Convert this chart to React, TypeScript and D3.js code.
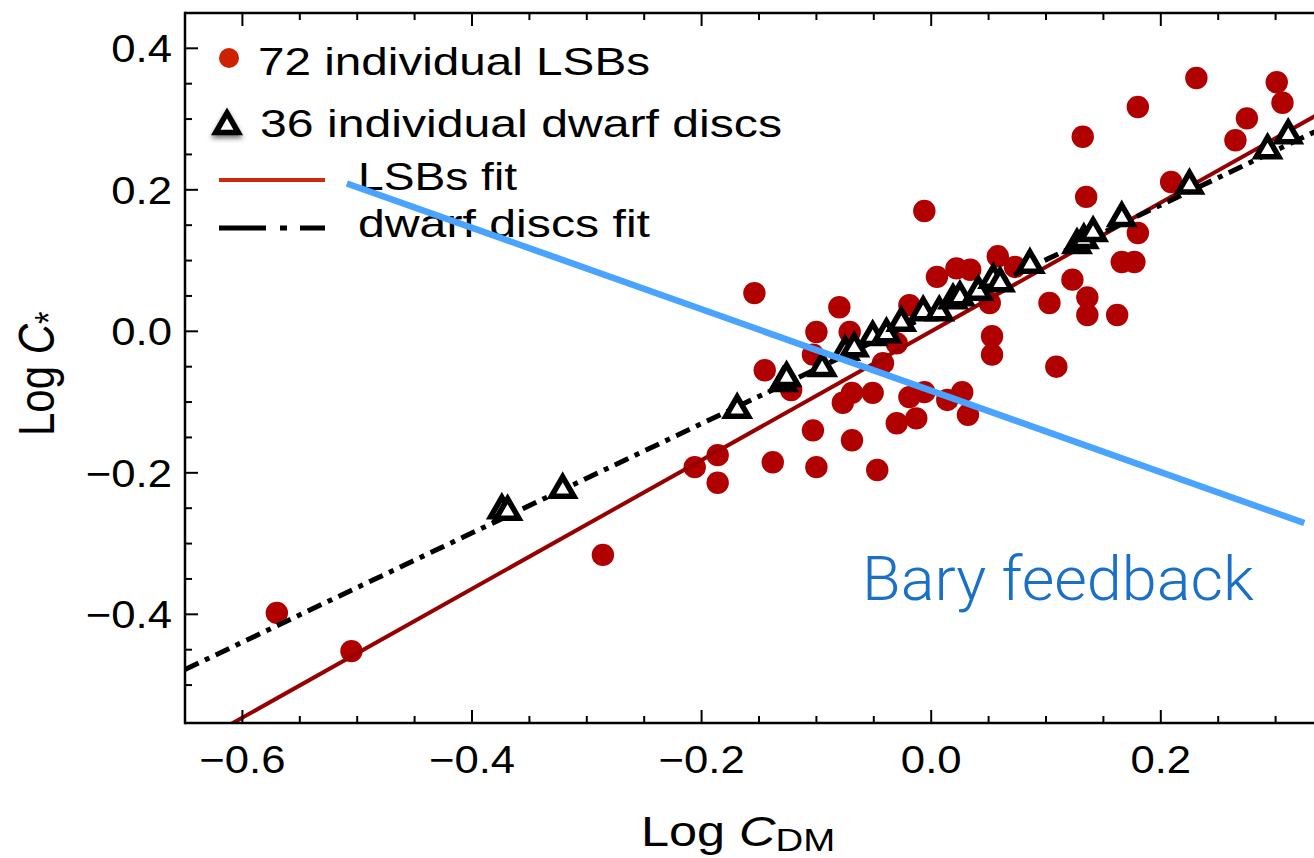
import React from "react";
import * as d3 from "d3";

const W = 1314;
const H = 858;

const X_DOMAIN = [-0.65, 0.35];
const Y_DOMAIN = [-0.5536, 0.4499];
const X_TICKS = [-0.6, -0.4, -0.2, 0.0, 0.2];
const Y_TICKS = [-0.4, -0.2, 0.0, 0.2, 0.4];

// 72 individual LSBs (visible ones)
const lsbX = [-0.570, -0.505, -0.286, -0.206, -0.186, -0.186, -0.154, -0.145, -0.138, -0.122,
  -0.103, -0.100, -0.100, -0.103, -0.080, -0.071, -0.077, -0.069, -0.069, -0.051,
  -0.047, -0.042, -0.030, -0.030, -0.019, -0.013, -0.006, -0.019, 0.005, -0.006,
  0.014, 0.027, 0.032, 0.022, 0.034, 0.058, 0.051, 0.053, 0.053, 0.103,
  0.109, 0.123, 0.136, 0.136, 0.162, 0.166, 0.177, 0.180, 0.132, 0.135,
  0.180, 0.209, 0.231, 0.265, 0.275, 0.301, 0.306, 0.073];
const lsbY = [-0.398, -0.452, -0.316, -0.192, -0.175, -0.214, 0.054, -0.055, -0.185, -0.083,
  -0.140, -0.192, -0.001, -0.033, 0.034, -0.001, -0.101, -0.087, -0.154, -0.087,
  -0.196, -0.045, -0.017, -0.130, -0.093, -0.123, -0.086, 0.037, 0.077, 0.170,
  -0.097, -0.086, -0.118, 0.089, 0.087, 0.106, 0.040, -0.007, -0.033, 0.040,
  -0.050, 0.073, 0.048, 0.023, 0.023, 0.098, 0.098, 0.139, 0.275, 0.190,
  0.317, 0.211, 0.358, 0.270, 0.301, 0.352, 0.323, 0.091];

// 36 individual dwarf discs (visible ones)
const dwarfX = [-0.374, -0.369, -0.321, -0.169, -0.129, -0.126, -0.095, -0.075, -0.067, -0.051,
  -0.039, -0.026, -0.007, 0.007, 0.019, 0.025, 0.041, 0.054, 0.060, 0.086,
  0.127, 0.133, 0.141, 0.166, 0.225, 0.293, 0.311];
const dwarfY = [-0.253, -0.255, -0.224, -0.111, -0.073, -0.066, -0.052, -0.029, -0.024, -0.008,
  -0.004, 0.012, 0.027, 0.027, 0.044, 0.048, 0.056, 0.073, 0.068, 0.094,
  0.122, 0.129, 0.139, 0.160, 0.206, 0.256, 0.277];

// fit lines (endpoints)
const lsbFitX = [-0.65, 0.36];
const lsbFitY = [-0.5915, 0.3276];
const dwarfFitX = [-0.65, 0.36];
const dwarfFitY = [-0.478, 0.302];

// annotation line "Bary feedback"
const baryX = [-0.509, 0.325];
const baryY = [0.209, -0.271];

const legendLabels = ["72 individual LSBs", "36 individual dwarf discs", "LSBs fit", "dwarf discs fit"];

const FONT = "'Liberation Sans', Arial, Helvetica, sans-serif";

export default function App() {
  const x = d3.scaleLinear().domain(X_DOMAIN).range([185, 185 + 1148]);
  const y = d3.scaleLinear().domain(Y_DOMAIN).range([723, 13]);
  const left = x(X_DOMAIN[0]);
  const right = x(X_DOMAIN[1]);
  const top = y(Y_DOMAIN[1]);
  const bottom = y(Y_DOMAIN[0]);

  const isMajor = (v: number) => Math.abs(v / 0.2 - Math.round(v / 0.2)) < 1e-6;
  const xMinor = d3.range(-13, 8).map((i) => i * 0.05).filter((v) => x(v) > left + 3 && x(v) < right - 3);
  const yMinor = d3.range(-11, 10).map((i) => i * 0.05).filter((v) => y(v) < bottom - 3 && y(v) > top + 3);

  const line = d3.line<[number, number]>().x((d) => x(d[0])).y((d) => y(d[1]));
  const lsbFit = line(lsbFitX.map((v, i) => [v, lsbFitY[i]] as [number, number]));
  const dwarfFit = line(dwarfFitX.map((v, i) => [v, dwarfFitY[i]] as [number, number]));
  const bary = line(baryX.map((v, i) => [v, baryY[i]] as [number, number]));

  const tri = d3.symbol().type(d3.symbolTriangle).size(220)() as string;
  const fmt = (v: number) => (v < 0 ? "\u2212" : "") + Math.abs(v).toFixed(1);

  const SX = 1.12;

  return (
    <svg width={W} height={H} style={{ position: "fixed", left: 0, top: 0, background: "#fff" }}>
      <defs>
        <clipPath id="plot">
          <rect x={left} y={top} width={right - left} height={bottom - top} />
        </clipPath>
        <filter id="shadow" x="-50%" y="-50%" width="200%" height="200%">
          <feDropShadow dx="0" dy="3" stdDeviation="2.5" floodColor="#000" floodOpacity="0.55" />
        </filter>
        <filter id="soft" x="-20%" y="-20%" width="140%" height="140%">
          <feGaussianBlur stdDeviation="0.6" />
        </filter>
      </defs>
      <rect x={0} y={0} width={W} height={H} fill="#fff" />

      <g clipPath="url(#plot)">
        {/* data dots */}
        <g filter="url(#soft)">
          {lsbX.map((v, i) => (
            <circle key={i} cx={x(v)} cy={y(lsbY[i])} r={11.2} fill="#b00000" />
          ))}
        </g>
        {/* fits */}
        <path d={lsbFit || ""} fill="none" stroke="#960000" strokeWidth={4} />
        <path d={dwarfFit || ""} fill="none" stroke="#000" strokeWidth={5} strokeDasharray="15 7 5 7" />
        {/* triangles */}
        {dwarfX.map((v, i) => (
          <path key={i} d={tri} transform={`translate(${x(v)},${y(dwarfY[i])})`} fill="#fff" stroke="#000" strokeWidth={5.5} strokeLinejoin="miter" />
        ))}
      </g>

      {/* frame */}
      <g stroke="#000" strokeWidth={2.5} fill="none">
        <line x1={left} y1={top} x2={right + 5} y2={top} />
        <line x1={left} y1={bottom} x2={right + 5} y2={bottom} />
        <line x1={left} y1={top - 1.2} x2={left} y2={bottom + 1.2} />
      </g>
      {/* ticks */}
      <g stroke="#000" strokeWidth={2}>
        {xMinor.map((v, i) => {
          const L = isMajor(v) ? 13 : 7;
          return (
            <g key={i}>
              <line x1={x(v)} x2={x(v)} y1={bottom} y2={bottom - L} />
              <line x1={x(v)} x2={x(v)} y1={top} y2={top + L} />
            </g>
          );
        })}
        {yMinor.map((v, i) => {
          const L = isMajor(v) ? 13 : 7;
          return <line key={i} x1={left} x2={left + L} y1={y(v)} y2={y(v)} />;
        })}
      </g>

      {/* tick labels */}
      <g fontFamily={FONT} fontSize={39} fill="#000">
        {X_TICKS.map((v, i) => (
          <text key={i} transform={`translate(${x(v)},773) scale(${SX},1)`} textAnchor="middle">
            {fmt(v)}
          </text>
        ))}
        {Y_TICKS.map((v, i) => (
          <text key={i} transform={`translate(172,${y(v) + 14}) scale(${SX},1)`} textAnchor="end">
            {fmt(v)}
          </text>
        ))}
      </g>

      {/* axis titles */}
      <text transform="translate(641,846) scale(1.2,1)" fontFamily={FONT} fontSize={42} fill="#000">
        Log <tspan fontStyle="italic">C</tspan>
        <tspan fontSize={32} dy={5}>DM</tspan>
      </text>
      <text transform="translate(54,436) scale(1.2,1) rotate(-90)" fontFamily={FONT} fontSize={42} fill="#000">
        Log <tspan fontStyle="italic">C</tspan>
        <tspan fontSize={32} dy={7}>*</tspan>
      </text>

      {/* legend */}
      <circle cx={229} cy={58} r={10} fill="#cc2200" />
      <path d={tri} transform="translate(227,126)" fill="#fff" stroke="#000" strokeWidth={5.5} filter="url(#shadow)" />
      <line x1={219} x2={325} y1={180} y2={180} stroke="#cc2a10" strokeWidth={4} />
      <line x1={219} x2={325} y1={228} y2={228} stroke="#000" strokeWidth={5} strokeDasharray="47 14 7 13" />
      <g fontFamily={FONT} fontSize={39} fill="#000">
        <text x={258} y={75} textLength={392} lengthAdjust="spacingAndGlyphs">{legendLabels[0]}</text>
        <text x={260} y={137} textLength={522} lengthAdjust="spacingAndGlyphs">{legendLabels[1]}</text>
        <text x={358} y={190} textLength={159} lengthAdjust="spacingAndGlyphs">{legendLabels[2]}</text>
        <text x={358} y={237} textLength={292} lengthAdjust="spacingAndGlyphs">{legendLabels[3]}</text>
      </g>

      {/* annotation */}
      <path d={bary || ""} stroke="#4aa3ff" strokeWidth={6.5} fill="none" />
      <text x={862} y={600} fontFamily="Roboto, 'Open Sans', sans-serif" fontWeight={300} fontSize={62} fill="#1a6fc8" textLength={392} lengthAdjust="spacingAndGlyphs">
        Bary feedback
      </text>
    </svg>
  );
}
